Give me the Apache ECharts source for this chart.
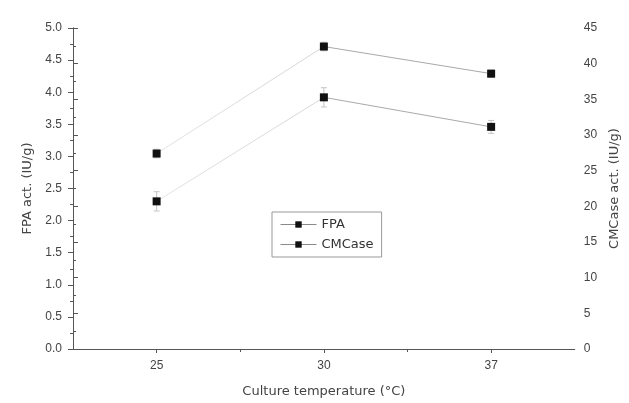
<!DOCTYPE html>
<html>
<head>
<meta charset="utf-8">
<script src="https://cdn.jsdelivr.net/npm/echarts@6/dist/echarts.min.js"></script>
<style>
html,body{margin:0;padding:0;background:#fff;}
#main{width:629px;height:403px;}
</style>
</head>
<body>
<div id="main"></div>
<script>
// categories (x positions 1,3,5 on a 0..6 axis)
var temps = ['25', '30', '37'];
var xPos = [1, 3, 5];
// FPA act. (IU/g), left axis
var fpa = [2.30, 3.92, 3.46];
var fpaErr = [0.15, 0.15, 0.10];
// CMCase act. (IU/g), right axis
var cmc = [27.4, 42.4, 38.6];
var cmcErr = [0.6, 0.6, 0.5];

function pairs(vals){
    var out = [];
    for(var i=0;i<vals.length;i++){
        out.push([xPos[i], vals[i]]);
    }
    return out;
}
function errData(vals, errs){
    var out = [];
    for(var i=0;i<vals.length;i++){
        out.push([xPos[i], vals[i] - errs[i], vals[i] + errs[i]]);
    }
    return out;
}
//误差线
function renderErr(params, api){
    var lo = api.coord([api.value(0), api.value(1)]);
    var hi = api.coord([api.value(0), api.value(2)]);
    var w = 3;
    var st = {stroke:'#c4c4c4', lineWidth:1};
    return {
        type:'group',
        children:[
            {type:'line', shape:{x1:lo[0], y1:lo[1], x2:hi[0], y2:hi[1]}, style:st},
            {type:'line', shape:{x1:lo[0]-w, y1:lo[1], x2:lo[0]+w, y2:lo[1]}, style:st},
            {type:'line', shape:{x1:hi[0]-w, y1:hi[1], x2:hi[0]+w, y2:hi[1]}, style:st}
        ]
    };
}

// 25-30 段很淡, 30-37 段稍深
var lineCol = {
    type:'linear', x:0, y:0, x2:1, y2:0,
    colorStops:[
        {offset:0, color:'#e2e2e2'},
        {offset:0.5, color:'#d6d6d6'},
        {offset:0.5, color:'#a8a8a8'},
        {offset:1, color:'#a8a8a8'}
    ]
};

var font = '"Liberation Sans", Arial, sans-serif';
var titleFont = '"DejaVu Sans", sans-serif';
var axisCol = '#555';

var chart = echarts.init(document.getElementById('main'));
var option = {
    backgroundColor:'#fff',
    animation:false,
    grid:{left:73, right:51, top:28, bottom:51},
    legend:{
        data:['FPA', 'CMCase'],
        orient:'vertical',
        left:272,
        top:212,
        padding:[6, 8, 6, 8],
        itemGap:7,
        itemWidth:36,
        itemHeight:8,
        borderColor:'#999',
        borderWidth:1,
        borderRadius:0,
        lineStyle:{color:'#8a8a8a', width:1},
        textStyle:{fontFamily:titleFont, fontSize:13, color:'#333'}
    },
    xAxis:[
        {
            type:'value', min:0, max:6, position:'bottom',
            name:'Culture temperature (\u00b0C)', nameLocation:'middle', nameGap:36,
            nameTextStyle:{fontFamily:titleFont, fontSize:13, color:'#444'},
            splitLine:{show:false},
            axisLine:{onZero:false, lineStyle:{color:axisCol, width:1}},
            axisTick:{customValues:xPos, length:4, lineStyle:{color:axisCol}},
            axisLabel:{
                customValues:xPos, fontFamily:font, fontSize:12, color:'#444', margin:11,
                formatter:function(v){
                    var i = xPos.indexOf(v);
                    return i >= 0 ? temps[i] : '';
                }
            }
        },
        {
            type:'value', min:0, max:6, position:'bottom',
            splitLine:{show:false},
            axisLine:{show:false, onZero:false},
            axisTick:{customValues:[2, 4], length:3, lineStyle:{color:axisCol}},
            axisLabel:{show:false}
        }
    ],
    yAxis:[
        {
            type:'value', min:0, max:5, interval:0.5, position:'left',
            name:'FPA act. (IU/g)', nameLocation:'middle', nameGap:39, nameRotate:90,
            nameTextStyle:{fontFamily:titleFont, fontSize:13, color:'#444'},
            splitLine:{show:false},
            axisLine:{show:true, lineStyle:{color:axisCol, width:1}},
            axisTick:{length:5, lineStyle:{color:axisCol}},
            minorTick:{show:true, splitNumber:2, length:3, lineStyle:{color:axisCol}},
            axisLabel:{fontFamily:font, fontSize:12, color:'#444', margin:11,
                formatter:function(v){ return v.toFixed(1); }}
        },
        {
            type:'value', min:0, max:45, interval:5, position:'right',
            name:'CMCase act. (IU/g)', nameLocation:'middle', nameGap:28, nameRotate:90,
            nameTextStyle:{fontFamily:titleFont, fontSize:13, color:'#444'},
            splitLine:{show:false},
            axisLine:{show:true, lineStyle:{color:axisCol, width:1}},
            axisTick:{length:5, lineStyle:{color:axisCol}},
            minorTick:{show:true, splitNumber:2, length:3, lineStyle:{color:axisCol}},
            axisLabel:{fontFamily:font, fontSize:12, color:'#444', margin:9}
        }
    ],
    series:[
        {
            type:'custom', xAxisIndex:0, yAxisIndex:0, silent:true,
            renderItem:renderErr, data:errData(fpa, fpaErr), z:1
        },
        {
            type:'custom', xAxisIndex:0, yAxisIndex:1, silent:true,
            renderItem:renderErr, data:errData(cmc, cmcErr), z:1
        },
        {
            name:'FPA', type:'line', xAxisIndex:0, yAxisIndex:0,
            data:pairs(fpa), symbol:'rect', symbolSize:8,
            itemStyle:{color:'#111'},
            lineStyle:{color:lineCol, width:1}, z:3
        },
        {
            name:'CMCase', type:'line', xAxisIndex:0, yAxisIndex:1,
            data:pairs(cmc), symbol:'rect', symbolSize:8,
            itemStyle:{color:'#111'},
            lineStyle:{color:lineCol, width:1}, z:3
        }
    ]
};
chart.setOption(option);
window.onresize = chart.resize;
</script>
</body>
</html>
